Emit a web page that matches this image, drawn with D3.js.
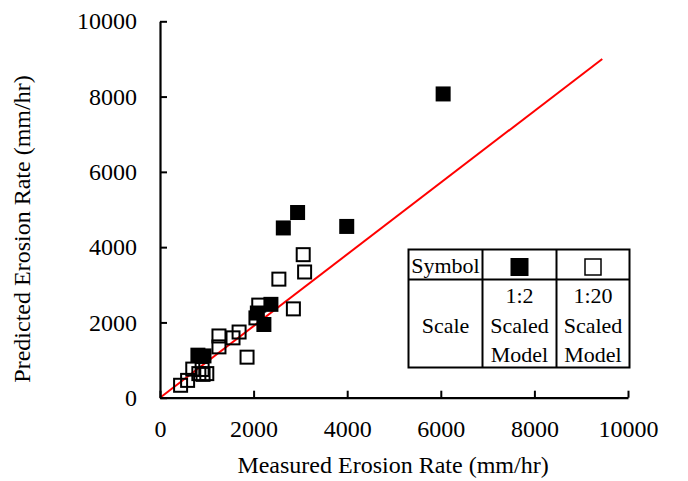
<!DOCTYPE html>
<html><head><meta charset="utf-8">
<script src="https://cdn.jsdelivr.net/npm/d3@7"></script>
<style>
html,body{margin:0;padding:0;background:#fff;}
svg text{font-family:"Liberation Serif","Times New Roman",serif !important;fill:#000;}
</style></head>
<body><svg id="c" width="688" height="481" font-family="Liberation Serif"></svg>
<script>
// Data
const xTicks = [0, 2000, 4000, 6000, 8000, 10000];
const yTicks = [0, 2000, 4000, 6000, 8000, 10000];
const scaled12Measured  = [810, 940, 2080, 2220, 2370, 2635, 2940, 3990, 6050];
const scaled12Predicted = [1130, 1110, 2250, 1945, 2480, 4510, 4920, 4550, 8070];
const scaled120Measured  = [440, 590, 700, 830, 920, 1000, 900, 1260, 1260, 1560, 1690, 1860, 2110, 2050, 2850, 2540, 3060, 3090];
const scaled120Predicted = [330, 460, 760, 640, 620, 640, 750, 1640, 1350, 1590, 1745, 1077, 2460, 2120, 2360, 3150, 3800, 3340];
const lineX = [0, 9450];
const lineY = [0, 9000];
const xTitle = "Measured Erosion Rate (mm/hr)";
const yTitle = "Predicted Erosion Rate (mm/hr)";
const legendRow1 = ["Symbol"];
const legendScale = ["Scale"];
const legend12 = ["1:2", "Scaled", "Model"];
const legend120 = ["1:20", "Scaled", "Model"];

const FONT = "Liberation Serif";
const svg = d3.select("#c");
const x = d3.scaleLinear().domain([0, 10000]).range([160, 628]);
const y = d3.scaleLinear().domain([0, 10000]).range([397.7, 21.3]);

// 1:1 line
svg.append("line")
  .attr("x1", x(lineX[0])).attr("y1", y(lineY[0]))
  .attr("x2", x(lineX[1])).attr("y2", y(lineY[1]))
  .attr("stroke", "#ff0000").attr("stroke-width", 2);

// hollow squares
const hs = 13;
svg.append("g").selectAll("rect").data(d3.zip(scaled120Measured, scaled120Predicted)).join("rect")
  .attr("x", d => x(d[0]) - hs/2).attr("y", d => y(d[1]) - hs/2)
  .attr("width", hs).attr("height", hs)
  .attr("fill", "none").attr("stroke", "#000").attr("stroke-width", 2);

// filled squares
const fs = 15;
svg.append("g").selectAll("rect").data(d3.zip(scaled12Measured, scaled12Predicted)).join("rect")
  .attr("x", d => x(d[0]) - fs/2).attr("y", d => y(d[1]) - fs/2)
  .attr("width", fs).attr("height", fs)
  .attr("fill", "#000");

// axes
const xAxis = d3.axisBottom(x).tickValues(xTicks).tickSizeInner(-7).tickSizeOuter(0).tickPadding(22).tickFormat(d3.format("d"));
const yAxis = d3.axisLeft(y).tickValues(yTicks).tickSizeInner(-7).tickSizeOuter(0).tickPadding(23).tickFormat(d3.format("d"));
const gx = svg.append("g").attr("transform", `translate(0,${y(0)})`).call(xAxis);
const gy = svg.append("g").attr("transform", `translate(${x(0)},0)`).call(yAxis);
[gx, gy].forEach(g => {
  g.attr("font-family", FONT).attr("font-size", 24);
  g.select(".domain").attr("stroke", "#000").attr("stroke-width", 2.2);
  g.selectAll(".tick line").attr("stroke", "#000").attr("stroke-width", 2);
  g.selectAll(".tick text").attr("font-size", 24).attr("font-family", FONT);
});

// titles
svg.append("text").attr("x", 393).attr("y", 473).attr("text-anchor", "middle")
  .attr("font-family", FONT).attr("font-size", 24).text(xTitle);
svg.append("text").attr("transform", "translate(30,229) rotate(-90)").attr("text-anchor", "middle")
  .attr("font-family", FONT).attr("font-size", 24).text(yTitle);

// legend table
const L = {x0: 408.5, x1: 482.5, x2: 556.5, x3: 629.5, y0: 249.5, y1: 279.5, y2: 367.5};
const lg = svg.append("g").attr("font-family", FONT);
lg.append("rect").attr("x", L.x0).attr("y", L.y0).attr("width", L.x3 - L.x0).attr("height", L.y2 - L.y0)
  .attr("fill", "#fff").attr("stroke", "#000").attr("stroke-width", 2);
lg.append("line").attr("x1", L.x1).attr("x2", L.x1).attr("y1", L.y0).attr("y2", L.y2).attr("stroke", "#000").attr("stroke-width", 2);
lg.append("line").attr("x1", L.x2).attr("x2", L.x2).attr("y1", L.y0).attr("y2", L.y2).attr("stroke", "#000").attr("stroke-width", 2);
lg.append("line").attr("x1", L.x0).attr("x2", L.x3).attr("y1", L.y1).attr("y2", L.y1).attr("stroke", "#000").attr("stroke-width", 2);
lg.append("text").attr("x", (L.x0 + L.x1)/2).attr("y", 273).attr("text-anchor", "middle").attr("font-size", 22).text(legendRow1[0]);
lg.append("rect").attr("x", (L.x1 + L.x2)/2 - 9).attr("y", 258).attr("width", 18).attr("height", 18).attr("fill", "#000");
lg.append("rect").attr("x", (L.x2 + L.x3)/2 - 8).attr("y", 259).attr("width", 16).attr("height", 16).attr("fill", "none").attr("stroke", "#000").attr("stroke-width", 1.5);
lg.append("text").attr("x", (L.x0 + L.x1)/2).attr("y", 333).attr("text-anchor", "middle").attr("font-size", 22).text(legendScale[0]);
legend12.forEach((t, i) => lg.append("text").attr("x", (L.x1 + L.x2)/2).attr("y", 303 + i*29.5).attr("text-anchor", "middle").attr("font-size", 22).text(t));
legend120.forEach((t, i) => lg.append("text").attr("x", (L.x2 + L.x3)/2).attr("y", 303 + i*29.5).attr("text-anchor", "middle").attr("font-size", 22).text(t));
</script></body></html>
